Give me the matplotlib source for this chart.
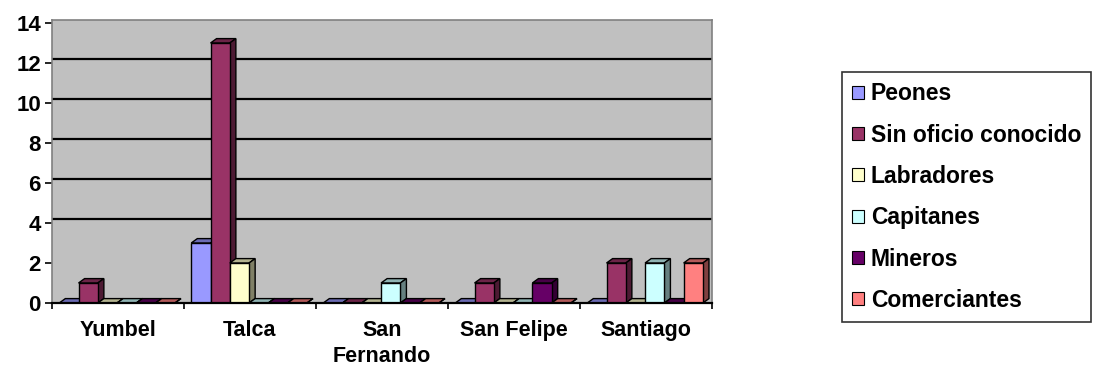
"""
Excel-style 3D clustered bar chart: oficios by ciudad
"""
import matplotlib
matplotlib.use('Agg')
import matplotlib.pyplot as plt
from matplotlib.patches import Polygon, Rectangle
import numpy as np

ciudades = ['Yumbel', 'Talca', 'San\nFernando', 'San Felipe', 'Santiago']
series = ['Peones', 'Sin oficio conocido', 'Labradores',
          'Capitanes', 'Mineros', 'Comerciantes']
peones = [0, 3, 0, 0, 0]
sin_oficio = [1, 13, 0, 1, 2]
labradores = [0, 2, 0, 0, 0]
capitanes = [0, 0, 1, 0, 2]
mineros = [0, 0, 0, 1, 0]
comerciantes = [0, 0, 0, 0, 2]
y_ticks = [0, 2, 4, 6, 8, 10, 12, 14]

values = [peones, sin_oficio, labradores, capitanes, mineros, comerciantes]
colors = ['#9999FF', '#993366', '#FFFFCC', '#CCFFFF', '#660066', '#FF8080']

FONT = 'Liberation Sans'


def shade(color, f):
    r, g, b = matplotlib.colors.to_rgb(color)
    return (r * f, g * f, b * f)


fig = plt.figure(figsize=(10.95, 3.76), dpi=100)
ax = fig.add_axes([52 / 1095, 73 / 376, 660 / 1095, 283 / 376])
ax.set_facecolor('#C0C0C0')
ax.set_xlim(-0.5, 4.5)
ax.set_ylim(0, 14.15)

# bar geometry (data units)
width = 0.146
offset = 0.055
dx, dy = 0.046, 0.22

# back wall gridlines (shifted by the depth)
for v in [4, 6, 8, 10, 12]:
    ax.axhline(v + dy, color='black', lw=1.6, zorder=1)

x = np.arange(len(ciudades))
for c in range(len(ciudades)):
    for s in range(len(series)):
        val = values[s][c]
        x0 = x[c] - 0.5 + offset + s * width
        z = 3 + (c * len(series) + s) * 0.01
        col = colors[s]
        ax.bar(x0, val, width=width, align='edge', color=col,
               edgecolor='black', linewidth=1.0, zorder=z + 0.005)
        top = Polygon([(x0, val), (x0 + dx, val + dy),
                       (x0 + width + dx, val + dy), (x0 + width, val)],
                      closed=True, facecolor=shade(col, 0.7),
                      edgecolor='black', linewidth=1.0, zorder=z)
        side = Polygon([(x0 + width, 0), (x0 + width, val),
                        (x0 + width + dx, val + dy), (x0 + width + dx, dy)],
                       closed=True, facecolor=shade(col, 0.5),
                       edgecolor='black', linewidth=1.0, zorder=z)
        ax.add_patch(top)
        ax.add_patch(side)

# axes styling
for sp in ['top', 'right', 'left']:
    ax.spines[sp].set_color('#808080')
    ax.spines[sp].set_linewidth(1.2)
ax.spines['bottom'].set_color('black')
ax.spines['bottom'].set_linewidth(1.6)
ax.spines['bottom'].set_zorder(10)

ax.set_yticks(y_ticks)
ax.set_yticklabels([str(t) for t in y_ticks], fontsize=16,
                   fontweight='bold', family=FONT)
ax.tick_params(axis='y', direction='out', length=5, width=1.2, pad=3)

ax.set_xticks(np.arange(-0.5, 5, 1.0))
ax.set_xticklabels([])
ax.tick_params(axis='x', which='major', direction='out', length=4,
               width=1.2, colors='black')
ax.set_xticks(x, minor=True)
ax.set_xticklabels(ciudades, minor=True, fontsize=15.5, fontweight='bold',
                   family=FONT, linespacing=1.35)
ax.tick_params(axis='x', which='minor', length=0, pad=12)

handles = [Rectangle((0, 0), 1, 1, facecolor=c, edgecolor='black', lw=0.8)
           for c in colors]
leg = fig.legend(handles, series, loc='upper left',
                 bbox_to_anchor=(842 / 1095, 1 - 72 / 376),
                 frameon=True, fancybox=False, edgecolor='black',
                 borderaxespad=0, borderpad=0.45, labelspacing=0.8,
                 handlelength=0.5, handleheight=0.5, handletextpad=0.3,
                 prop={'family': FONT, 'weight': 'bold', 'size': 16.5})
leg.get_frame().set_linewidth(1.2)

fig.savefig('out.png', dpi=100)
